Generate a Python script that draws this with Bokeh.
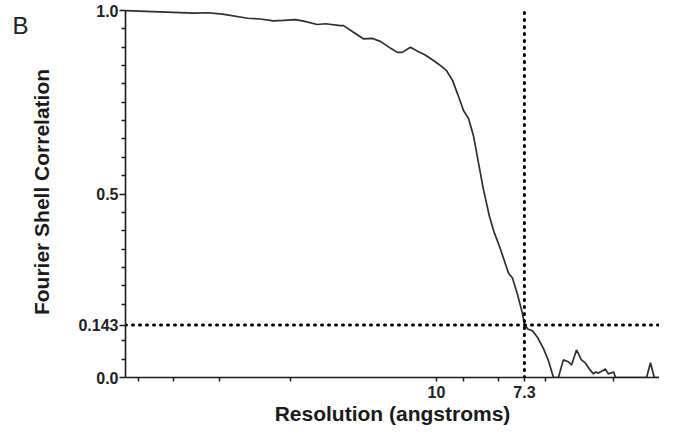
from bokeh.plotting import figure
from bokeh.models import FixedTicker, Label, Range1d
from bokeh.embed import file_html
from bokeh.resources import INLINE

# Fourier shell index (x) and FSC (y)
shell = [0, 12.4, 15.0, 17.7, 22.3, 24.6, 27.0, 28.8, 31.0, 32.5, 35.0, 36.5, 39.2, 39.8,
         41.6, 43.4, 45.1, 46.5, 48.4, 49.6, 50.5, 52.0, 53.3, 54.7, 56.2, 57.5, 58.6,
         59.7, 60.6, 61.7, 62.6, 63.5, 64.4, 65.3, 66.4, 67.2, 68.4, 69.9, 70.6, 71.5,
         72.4, 72.8, 73.4, 74.3, 75.2, 76.3, 77.2, 78.1, 79.0, 79.9, 80.8, 81.4, 82.3,
         83.2, 83.9, 84.7, 85.4, 85.8, 86.3, 87.6, 88.1, 89.1, 89.4, 95.1, 95.8, 96.5, 97.45]
fsc = [1.000, 0.993, 0.994, 0.990, 0.979, 0.977, 0.972, 0.973, 0.975, 0.971, 0.962, 0.964,
       0.959, 0.959, 0.941, 0.923, 0.924, 0.916, 0.897, 0.886, 0.886, 0.900, 0.889, 0.879,
       0.864, 0.850, 0.836, 0.809, 0.773, 0.727, 0.706, 0.659, 0.586, 0.514, 0.440, 0.399,
       0.351, 0.284, 0.272, 0.228, 0.177, 0.145, 0.132, 0.127, 0.109, 0.078, 0.045, 0.0,
       0.0, 0.048, 0.043, 0.034, 0.075, 0.048, 0.040, 0.022, 0.010, 0.015, 0.012, 0.023,
       0.010, 0.015, 0.0, 0.0, 0.040, 0.0, 0.0]

# axis ticks
x_major = [56.75, 72.8]
x_major_labels = ["10", "7.3"]
x_minor = [2.37, 8.76, 17.15, 30.1, 61.7, 68.07, 76.6, 89.05]
y_major = [0.0, 0.143, 0.5, 1.0]
y_major_labels = ["0.0", "0.143", "0.5", "1.0"]
y_minor = [0.05, 0.1, 0.2, 0.25, 0.3, 0.35, 0.4, 0.45, 0.55, 0.6, 0.65, 0.7, 0.75,
           0.8, 0.85, 0.9, 0.95]

threshold = 0.143
cutoff_shell = 72.8
x_end = 97.45

p = figure(width=659, height=427, output_backend="svg", toolbar_location=None,
           x_range=Range1d(0, x_end), y_range=Range1d(0, 1.011),
           min_border_left=125, min_border_right=0, min_border_top=6, min_border_bottom=50)
p.outline_line_color = None
p.xgrid.visible = False
p.ygrid.visible = False

p.line(shell, fsc, line_color="#2e2e2e", line_width=1.7)
p.line([0, x_end], [threshold, threshold], line_color="black", line_width=3,
       line_dash="1 6", line_cap="round")
p.line([cutoff_shell, cutoff_shell], [0, 1.0], line_color="black", line_width=3,
       line_dash="1 6", line_cap="round")

font = "Liberation Sans"
for ax in (p.xaxis[0], p.yaxis[0]):
    ax.axis_line_color = "#1a1a1a"
    ax.axis_line_width = 1.6
    ax.major_tick_line_color = "#1a1a1a"
    ax.minor_tick_line_color = "#1a1a1a"
    ax.major_tick_line_width = 1.5
    ax.minor_tick_line_width = 1.5
    ax.major_tick_in = 0
    ax.minor_tick_in = 0
    ax.major_label_text_font = font
    ax.major_label_text_font_style = "bold"
    ax.major_label_text_font_size = "16px"
    ax.major_label_text_color = "#222222"
    ax.axis_label_text_font = font
    ax.axis_label_text_font_style = "bold"
    ax.axis_label_text_font_size = "21px"
    ax.axis_label_text_color = "#1a1a1a"

xa = p.xaxis[0]
xa.ticker = FixedTicker(ticks=x_major, minor_ticks=x_minor)
xa.major_label_overrides = dict(zip(x_major, x_major_labels))
xa.major_tick_out = 4
xa.minor_tick_out = 4
xa.major_label_standoff = 4
xa.axis_label = "Resolution (angstroms)"
xa.axis_label_standoff = 1

ya = p.yaxis[0]
ya.ticker = FixedTicker(ticks=y_major, minor_ticks=y_minor)
ya.major_label_overrides = dict(zip(y_major, y_major_labels))
ya.bounds = (0, 1.0)
ya.major_tick_out = 6
ya.minor_tick_out = 4
ya.major_label_standoff = 1
ya.axis_label = "Fourier Shell Correlation"
ya.axis_label_standoff = 22

# panel letter, placed in a side panel so that it is not clipped to the frame
p.add_layout(Label(x=-20.6, y=0.958, text="B", text_baseline="alphabetic",
                   text_font=font, text_font_size="24px", text_color="#222222"), "left")

open("out.html", "w").write(file_html(p, INLINE))
